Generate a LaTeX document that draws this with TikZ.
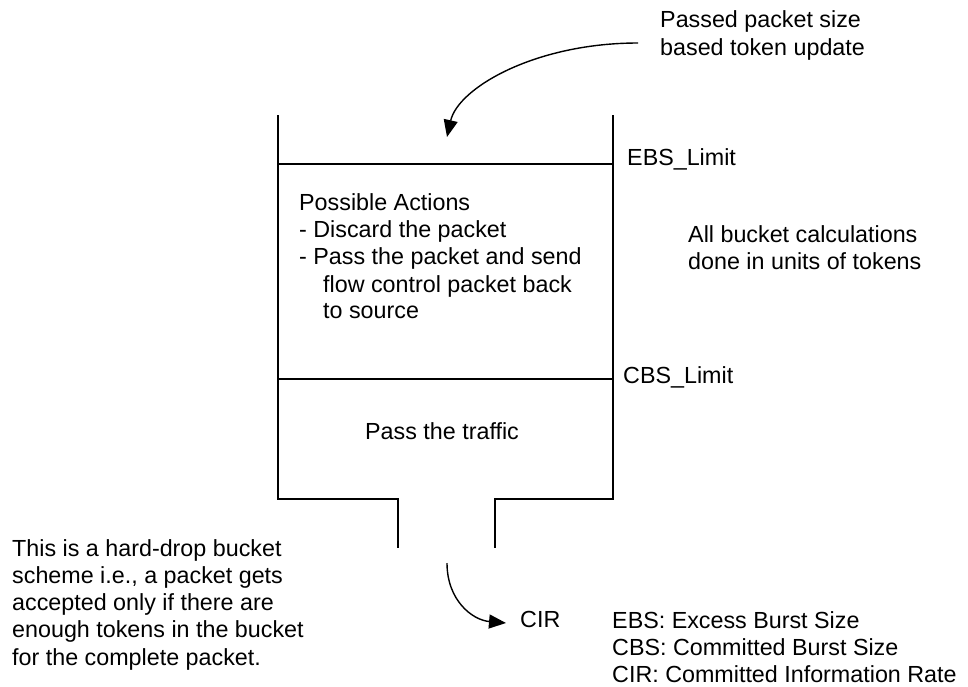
\documentclass[tikz,border=0pt]{standalone}
\usepackage{fontspec}
\setmainfont{Liberation Sans}
\usetikzlibrary{arrows.meta}
\begin{document}
\begin{tikzpicture}[x=1pt,y=-1pt,
  wall/.style={line width=2pt},
  lbl/.style={anchor=base west, inner sep=0pt, font=\fontsize{23.3}{27}\selectfont},
  flow/.style={line width=1.4pt, -{Triangle[length=17pt,width=14pt]}}]
\useasboundingbox (0,0) rectangle (968,686);
% bucket
\coordinate (tl) at (278,115);
\coordinate (tr) at (613,115);
\coordinate (bl) at (278,499);
\coordinate (br) at (613,499);
\draw[wall] (tl) -- (bl) -- (398,499) -- (398,548);
\draw[wall] (tr) -- (br) -- (495,499) -- (495,548);
\draw[wall] (278,164) -- (613,164);
\draw[wall] (278,379) -- (613,379);
% labels
\node[lbl] (upd1) at (660,27) {Passed packet size};
\node[lbl] (upd2) at (660,55) {based token update};
\node[lbl] (ebs) at (627,165) {EBS\_Limit};
\node[lbl] (cbs) at (623,383) {CBS\_Limit};
\node[lbl] (all1) at (688,242) {All bucket calculations};
\node[lbl] (all2) at (688,269) {done in units of tokens};
\node[lbl] (pa1) at (299,210) {Possible Actions};
\node[lbl] (pa2) at (299,237) {- Discard the packet};
\node[lbl] (pa3) at (299,264) {- Pass the packet and send};
\node[lbl] (pa4) at (323,292) {flow control packet back};
\node[lbl] (pa5) at (323,318) {to source};
\node[lbl] (pt) at (365,439) {Pass the traffic};
\node[lbl] (hd1) at (12,556) {This is a hard-drop bucket};
\node[lbl] (hd2) at (12,583) {scheme i.e., a packet gets};
\node[lbl] (hd3) at (12,610) {accepted only if there are};
\node[lbl] (hd4) at (12,637) {enough tokens in the bucket};
\node[lbl] (hd5) at (12,665) {for the complete packet.};
\node[lbl] (cir) at (520,627) {CIR};
\node[lbl] (lg1) at (612,628) {EBS: Excess Burst Size};
\node[lbl] (lg2) at (612,655) {CBS: Committed Burst Size};
\node[lbl] (lg3) at (612,682) {CIR: Committed Information Rate};
% arrows
\coordinate (updstart) at (638,43);
\coordinate (updend) at (447,137);
\draw[flow] (updstart) .. controls (535,43) and (458,88) .. (updend);
\coordinate (outstart) at (447,563);
\coordinate (outend) at (506,623);
\draw[flow] (outstart) .. controls (447,600) and (472,620) .. (outend);
\end{tikzpicture}
\end{document}
